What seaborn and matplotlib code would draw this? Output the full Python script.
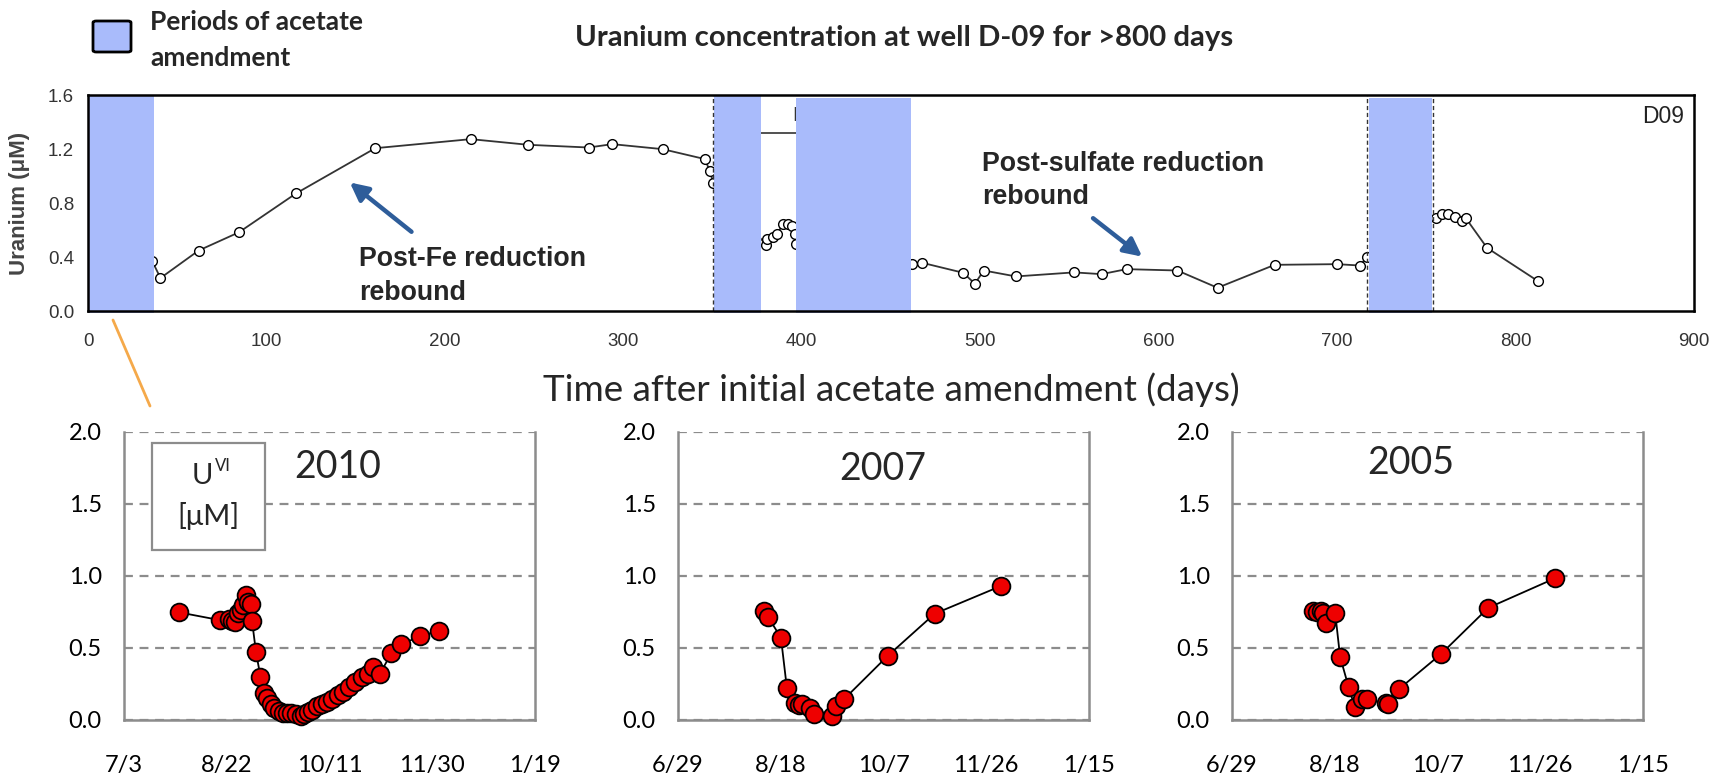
import matplotlib.pyplot as plt
import matplotlib.patches as mpatches
from matplotlib.lines import Line2D
import seaborn as sns

sns.set_theme(style="white")
plt.rcParams["font.family"] = ["Liberation Sans", "DejaVu Sans"]

# ---- top panel: well D-09, days after initial acetate amendment ----
d09_days = [36, 40.6, 62, 84.6, 116.6, 161, 214.5, 246.8, 280.6, 293.8, 322, 345.8, 348.3, 350.5,
            380, 380.5, 384, 386, 389.6, 392, 394.6, 396, 396.5,
            462, 467.5, 490.5, 497, 502, 520, 552.6, 568, 582, 610.5, 633, 665, 700, 712.6, 717,
            755.6, 758.7, 762, 766, 770, 772, 784, 812.5]
d09_uranium = [0.37, 0.244, 0.448, 0.583, 0.871, 1.206, 1.273, 1.231, 1.211, 1.236, 1.199, 1.125, 1.039, 0.95,
               0.489, 0.533, 0.548, 0.570, 0.644, 0.644, 0.630, 0.570, 0.500,
               0.35, 0.357, 0.283, 0.202, 0.300, 0.256, 0.286, 0.273, 0.310, 0.300, 0.172, 0.342, 0.347, 0.337, 0.40,
               0.69, 0.715, 0.72, 0.70, 0.665, 0.69, 0.468, 0.222]

period_start = [0, 351, 397, 718]
period_end = [37, 377, 461, 753]
period_top = [1.6, 1.6, 1.578, 1.578]
dashed_days = [350, 717, 754]

# ---- bottom panels: UVI (uM), days after the first axis date ----
days_2010 = [27.0, 46.5, 51.2, 52.7, 54.1, 55.3, 56.7, 58.0, 59.3, 60.5, 61.8, 62.3, 64.2, 66.4, 67.9,
             69.6, 71.3, 73.1, 75.2, 77.2, 79.4, 81.3, 83.5, 86.0, 87.8, 89.7, 91.5, 94.0, 96.2, 99.0,
             101.4, 104.0, 106.8, 109.6, 112.6, 115.7, 118.5, 121.3, 124.5, 130.0, 134.9, 144.2, 153.3]
u_2010 = [0.747, 0.694, 0.698, 0.687, 0.682, 0.740, 0.763, 0.798, 0.867, 0.816, 0.805, 0.689, 0.474, 0.301, 0.190,
          0.150, 0.111, 0.081, 0.062, 0.051, 0.046, 0.051, 0.039, 0.028, 0.042, 0.053, 0.069, 0.097, 0.111, 0.127,
          0.143, 0.173, 0.197, 0.231, 0.266, 0.296, 0.319, 0.370, 0.319, 0.462, 0.525, 0.583, 0.620]
ticks_2010 = ["7/3", "8/22", "10/11", "11/30", "1/19"]

days_2007 = [41.7, 44.0, 50.1, 53.0, 57.0, 59.1, 60.3, 64.3, 66.1, 75.0, 77.0, 80.9, 102.1, 124.9, 157.4]
u_2007 = [0.758, 0.712, 0.571, 0.220, 0.116, 0.104, 0.111, 0.081, 0.042, 0.030, 0.097, 0.146, 0.446, 0.738, 0.932]
ticks_2007 = ["6/29", "8/18", "10/7", "11/26", "1/15"]

days_2005 = [39.5, 41.3, 43.4, 44.3, 45.9, 50.2, 52.6, 56.7, 59.7, 63.3, 65.8, 74.8, 75.7, 81.1, 101.7, 124.7, 157.0]
u_2005 = [0.758, 0.751, 0.758, 0.740, 0.675, 0.745, 0.439, 0.231, 0.092, 0.143, 0.143, 0.116, 0.111, 0.213,
          0.458, 0.779, 0.983]
ticks_2005 = ["6/29", "8/18", "10/7", "11/26", "1/15"]

BLUE = "#a9bbfb"
ARROW = "#2e5d9a"
W, H = 1719, 776
fig = plt.figure(figsize=(W / 100, H / 100), dpi=100)
fig.patch.set_facecolor("white")

# ---------------- top panel ----------------
ax = fig.add_axes([88 / W, 1 - 311 / H, 1606 / W, 216 / H])
sns.lineplot(x=d09_days, y=d09_uranium, ax=ax, estimator=None, sort=False, color="#333333", lw=1.3,
             marker="o", markersize=7, markerfacecolor="white", markeredgecolor="black",
             markeredgewidth=1.0, zorder=2)
# remnant label hidden behind a period bar
ax.hlines(1.32, 377, 420, color="#333333", lw=1.2, zorder=1)
ax.text(394.5, 1.45, "E", fontsize=15, va="center", ha="left", color="#333333", zorder=1)
for s, e, t in zip(period_start, period_end, period_top):
    ax.axvspan(s, e, ymin=-0.01, ymax=t / 1.6, color=BLUE, zorder=3, lw=0, clip_on=False)
for d in dashed_days:
    ax.axvline(d, color="#333333", lw=1.0, ls=(0, (3, 2)), zorder=4)
ax.set_xlim(0, 900)
ax.set_ylim(0, 1.6)
ax.set_xticks(range(0, 901, 100))
ax.set_yticks([0.0, 0.4, 0.8, 1.2, 1.6])
ax.set_yticklabels(["0.0", "0.4", "0.8", "1.2", "1.6"])
for s in ax.spines.values():
    s.set_color("black")
    s.set_linewidth(1.8)
    s.set_zorder(5)
ax.tick_params(direction="out", length=5, width=1.2, color="black", labelsize=13.5,
               labelcolor="#333333")
ax.tick_params(axis="x", pad=11)
ax.tick_params(axis="y", pad=5)
ax.set_xlabel("")
ax.set_ylabel("Uranium (μM)", fontsize=16, fontweight="bold", color="#444444")
ax.yaxis.set_label_coords(-0.036, 0.5)
ax.text(0.994, 0.9, "D09", transform=ax.transAxes, ha="right", va="center", fontsize=16.5, color="#222222")

ax.annotate("", xy=(145.5, 0.965), xytext=(182.5, 0.574),
            arrowprops=dict(arrowstyle="-|>,head_length=0.9,head_width=0.45", color=ARROW, lw=3.2))
ax.annotate("", xy=(592, 0.39), xytext=(562, 0.70),
            arrowprops=dict(arrowstyle="-|>,head_length=0.9,head_width=0.45", color=ARROW, lw=3.2))
for txt, yv in [("Post-Fe reduction", 0.333), ("rebound", 0.08)]:
    ax.text(152, yv, txt, fontsize=19.3, fontweight="bold", ha="left", va="baseline")
for txt, yv in [("Post-sulfate reduction", 1.037), ("rebound", 0.79)]:
    ax.text(501, yv, txt, fontsize=19.3, fontweight="bold", ha="left", va="baseline")

# ---------------- header ----------------
fig.add_artist(mpatches.FancyBboxPatch((93 / W, 1 - 52 / H), 38 / W, 31 / H, transform=fig.transFigure,
                                       boxstyle="round,pad=0,rounding_size=0.002",
                                       facecolor=BLUE, edgecolor="black", lw=2))
fig.text(150 / W, 1 - 22 / H, "Periods of acetate", family="Lato", fontweight="bold",
         fontsize=19, ha="left", va="center")
fig.text(150 / W, 1 - 58 / H, "amendment", family="Lato", fontweight="bold",
         fontsize=19, ha="left", va="center")
fig.text(904 / W, 1 - 38 / H, "Uranium concentration at well D-09 for >800 days", family="Lato",
         fontweight="bold", fontsize=21.2, ha="center", va="center")
fig.text(891 / W, 1 - 390 / H, "Time after initial acetate amendment (days)", family="Lato",
         fontsize=26.5, ha="center", va="center")
fig.add_artist(Line2D([113 / W, 150 / W], [1 - 320 / H, 1 - 406 / H], transform=fig.transFigure,
                      color="#f5a94a", lw=2))

# ---------------- bottom panels ----------------
GRAY = "#8c8c8c"


def draw_panel(left, days, vals, ticklabels, year, year_pos):
    a = fig.add_axes([left / W, 1 - 720 / H, 411 / W, 288 / H])
    a.yaxis.grid(True, color=GRAY, ls=(0, (4, 3)), lw=1.6)
    a.xaxis.grid(False)
    sns.lineplot(x=days, y=vals, ax=a, estimator=None, sort=False, color="black", lw=1.3,
                 marker="o", markersize=12.8, markerfacecolor="#ee0000", markeredgecolor="black",
                 markeredgewidth=1.3, clip_on=False, zorder=4)
    a.set_xlim(0, 200)
    a.set_ylim(0, 2.0)
    a.set_xticks(range(0, 201, 50))
    a.set_xticklabels(ticklabels)
    a.set_yticks([0, 0.5, 1.0, 1.5, 2.0])
    a.set_yticklabels(["0.0", "0.5", "1.0", "1.5", "2.0"])
    for s in ["left", "right", "bottom"]:
        a.spines[s].set_color(GRAY)
        a.spines[s].set_linewidth(1.8)
    a.spines["top"].set_visible(False)
    a.tick_params(direction="out", length=6, width=1.5, color=GRAY, labelsize=17,
                  labelcolor="black", labelfontfamily="Lato")
    a.tick_params(axis="x", pad=19)
    a.tick_params(axis="y", pad=10)
    a.set_xlabel("")
    a.set_ylabel("")
    a.text(year_pos[0], year_pos[1], year, transform=a.transAxes, ha="center", va="center",
           fontsize=27, family="Lato")
    return a


a1 = draw_panel(124, days_2010, u_2010, ticks_2010, "2010", (0.52, 0.878))
draw_panel(678, days_2007, u_2007, ticks_2007, "2007", (0.497, 0.872))
draw_panel(1232, days_2005, u_2005, ticks_2005, "2005", (0.435, 0.892))

# UVI [uM] box in the 2010 panel
a1.add_patch(mpatches.Rectangle((0.068, 0.590), 0.275, 0.372, transform=a1.transAxes,
                                facecolor="white", edgecolor=GRAY, lw=1.6, zorder=5))
a1.text(0.19, 0.848, "U", transform=a1.transAxes, ha="center", va="center", fontsize=21,
        family="Lato", zorder=6)
a1.text(0.222, 0.882, "VI", transform=a1.transAxes, ha="left", va="center", fontsize=12,
        family="Lato", zorder=6)
a1.text(0.205, 0.707, "[μM]", transform=a1.transAxes, ha="center", va="center", fontsize=21,
        family="Lato", zorder=6)

fig.savefig("out.png", dpi=100, facecolor="white")
